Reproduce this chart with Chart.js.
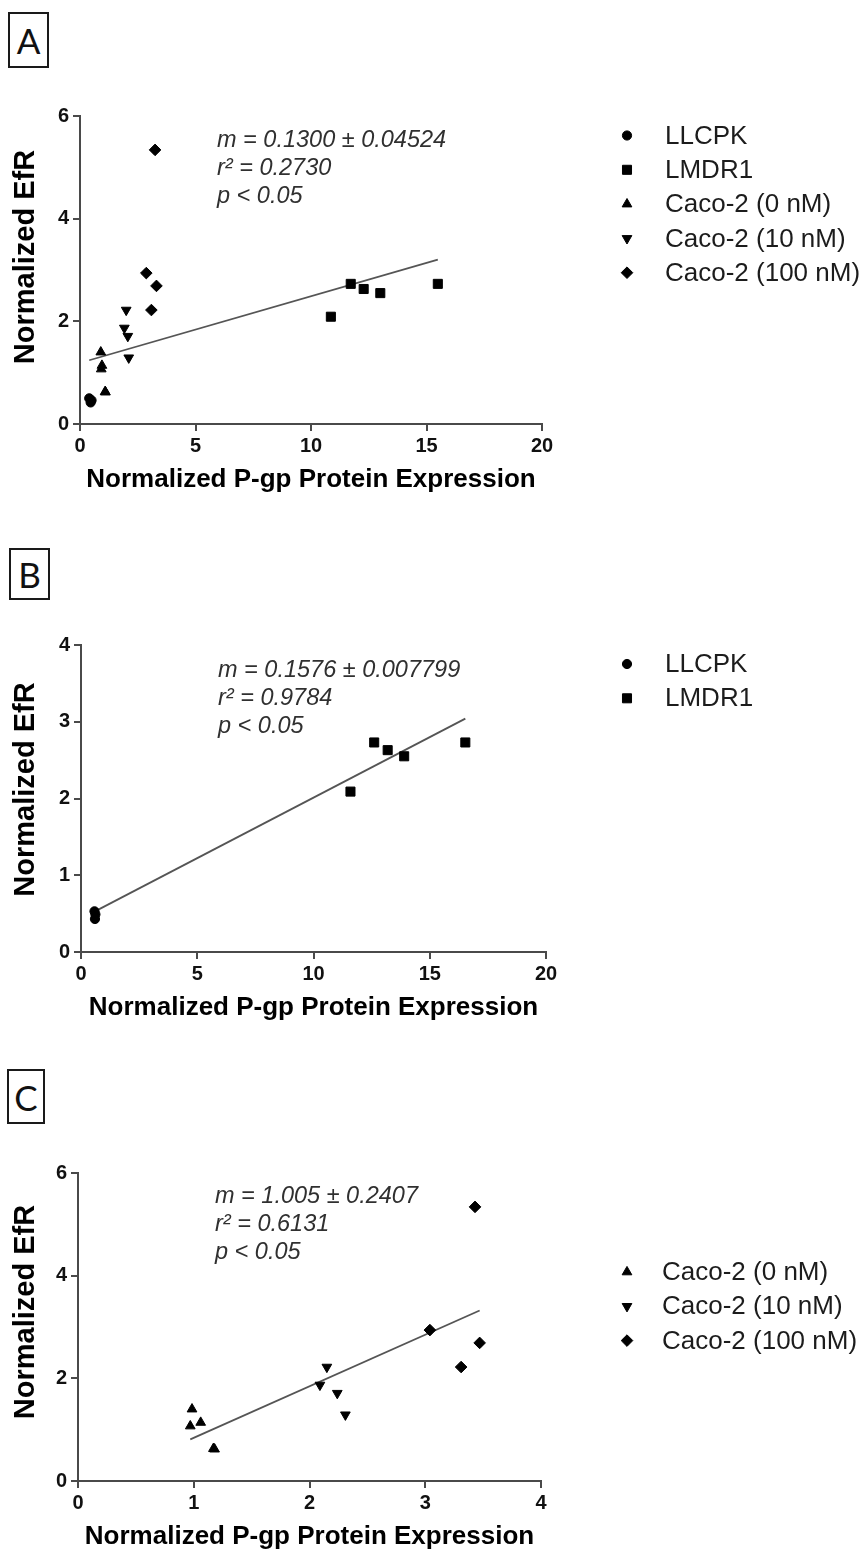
<!DOCTYPE html>
<html>
<head>
<meta charset="utf-8">
<title>Normalized EfR vs P-gp expression</title>
<script src="https://cdn.jsdelivr.net/npm/chart.js@4.4.1/dist/chart.umd.min.js"></script>
<style>
  html, body { margin: 0; padding: 0; background: #fff; }
  body { width: 867px; height: 1555px; position: relative; overflow: hidden; }
  .tag {
    position: absolute; box-sizing: border-box; border: 2px solid #1a1a1a;
    display: flex; align-items: center; justify-content: center;
    font-family: Lato, "Open Sans", "Liberation Sans", sans-serif; font-size: 35px; color: #111;
  }
  canvas { position: absolute; left: 0; }
</style>
</head>
<body>
<div class="tag" style="left:8px;top:12px;width:41px;height:56px;">A</div>
<div class="tag" style="left:9px;top:548px;width:41px;height:52px;">B</div>
<div class="tag" style="left:7px;top:1069px;width:38px;height:55px;">C</div>
<canvas id="chartA"></canvas>
<canvas id="chartB"></canvas>
<canvas id="chartC"></canvas>
<script>
// ---- Series names ----
const seriesNames = ['LLCPK', 'LMDR1', 'Caco-2 (0 nM)', 'Caco-2 (10 nM)', 'Caco-2 (100 nM)'];

// ---- Normalized EfR (y) per cell system ----
const efrLLCPK   = [0.50, 0.46, 0.42];
const efrLMDR1   = [2.09, 2.73, 2.63, 2.55, 2.73];
const efrCaco0   = [1.40, 1.14, 1.07, 0.63, 0.62];
const efrCaco10  = [2.22, 1.87, 1.71, 1.29];
const efrCaco100 = [5.34, 2.94, 2.69, 2.22];

// ---- Normalized P-gp protein expression (x), panel A ----
const pgpA_LLCPK   = [0.40, 0.50, 0.46];
const pgpA_LMDR1   = [10.86, 11.72, 12.28, 13.00, 15.49];
const pgpA_Caco0   = [0.90, 0.95, 0.92, 1.09, 1.10];
const pgpA_Caco10  = [2.00, 1.92, 2.07, 2.11];
const pgpA_Caco100 = [3.25, 2.87, 3.31, 3.09];

// ---- panel B ----
const efrB_LLCPK = [0.53, 0.49, 0.43];
const pgpB_LLCPK = [0.58, 0.62, 0.60];
const pgpB_LMDR1 = [11.59, 12.61, 13.19, 13.90, 16.53];

// ---- panel C ----
const pgpC_Caco0   = [0.985, 1.06, 0.97, 1.17, 1.18];
const pgpC_Caco10  = [2.15, 2.09, 2.24, 2.31];
const pgpC_Caco100 = [3.43, 3.04, 3.47, 3.31];

// ---- Linear fits: [slope, slope SE, r squared] as reported, plus intercept ----
const fitA = ['0.1300', '0.04524', '0.2730'];
const fitB = ['0.1576', '0.007799', '0.9784'];
const fitC = ['1.005', '0.2407', '0.6131'];
const interceptA = 1.19;
const interceptB = 0.435;
const interceptC = -0.165;
const pValueText = 'p < 0.05';

// ---- Axis ticks ----
const xTicksA = [0, 5, 10, 15, 20];
const yTicksA = [0, 2, 4, 6];
const xTicksB = [0, 5, 10, 15, 20];
const yTicksB = [0, 1, 2, 3, 4];
const xTicksC = [0, 1, 2, 3, 4];
const yTicksC = [0, 2, 4, 6];

const xTitle = 'Normalized P-gp Protein Expression';
const yTitle = 'Normalized EfR';

// ---- marker look for each series ----
const markerLook = {
  'LLCPK':           { pointStyle: 'circle',   radius: 4.6, rotation: 0 },
  'LMDR1':           { pointStyle: 'rect',     radius: 6.4, rotation: 0 },
  'Caco-2 (0 nM)':   { pointStyle: 'triangle', radius: 5.6, rotation: 0 },
  'Caco-2 (10 nM)':  { pointStyle: 'triangle', radius: 5.6, rotation: 180 },
  'Caco-2 (100 nM)': { pointStyle: 'rectRot',  radius: 5.8, rotation: 0 }
};

const FONT = '"Liberation Sans", Arial, Helvetica, sans-serif';
const PAGE_W = 867;
Chart.defaults.font.family = FONT;

function pts(xs, ys) { return xs.map((x, i) => ({ x: x, y: ys[i] })); }

function drawMarker(ctx, look, x, y) {
  const r = look.radius;
  ctx.beginPath();
  if (look.pointStyle === 'circle') {
    ctx.arc(x, y, r, 0, Math.PI * 2);
  } else if (look.pointStyle === 'rect') {
    const s = Math.SQRT1_2 * r;
    ctx.rect(x - s, y - s, 2 * s, 2 * s);
  } else if (look.pointStyle === 'rectRot') {
    ctx.moveTo(x - r, y); ctx.lineTo(x, y - r); ctx.lineTo(x + r, y); ctx.lineTo(x, y + r);
    ctx.closePath();
  } else {
    let a = look.rotation * Math.PI / 180;
    for (let i = 0; i < 3; i++) {
      const px = x + Math.sin(a) * r, py = y - Math.cos(a) * r;
      if (i === 0) ctx.moveTo(px, py); else ctx.lineTo(px, py);
      a += 2 * Math.PI / 3;
    }
    ctx.closePath();
  }
  ctx.fill();
  ctx.stroke();
}

// Rotated y title, fit statistics and the marker legend
const panelText = {
  id: 'panelText',
  afterDraw(chart, args, o) {
    const ctx = chart.ctx;
    const area = chart.chartArea;
    ctx.save();
    // y-axis title
    ctx.save();
    ctx.translate(o.yTitleX, (area.top + area.bottom) / 2 + o.yTitleShift);
    ctx.rotate(-Math.PI / 2);
    ctx.font = 'bold 29px ' + FONT;
    ctx.fillStyle = '#000';
    ctx.textAlign = 'center';
    ctx.textBaseline = 'middle';
    ctx.fillText(yTitle, 0, 0);
    ctx.restore();

    // fit statistics
    ctx.font = 'italic 23.5px ' + FONT;
    ctx.fillStyle = '#303030';
    ctx.textAlign = 'left';
    ctx.textBaseline = 'middle';
    const f = o.fit;
    const lines = ['m = ' + f[0] + ' \u00B1 ' + f[1], 'r\u00B2 = ' + f[2], pValueText];
    lines.forEach((t, i) => ctx.fillText(t, area.left + o.noteDx, area.top + o.noteDy + i * 28));

    // legend
    ctx.strokeStyle = '#000';
    ctx.lineWidth = 1;
    o.legend.forEach((name, i) => {
      const y = area.top + o.legendDy + i * 34.3;
      ctx.fillStyle = '#000';
      drawMarker(ctx, markerLook[name], o.legendMarkerX, y);
      ctx.font = '26px ' + FONT;
      ctx.fillStyle = '#1c1c1c';
      ctx.textAlign = 'left';
      ctx.textBaseline = 'middle';
      ctx.fillText(name, o.legendTextX, y + 1);
    });
    ctx.restore();
  }
};

function seriesDataset(name, xs, ys) {
  const look = markerLook[name];
  return {
    label: name,
    data: pts(xs, ys),
    pointStyle: look.pointStyle,
    pointRadius: look.radius,
    pointHoverRadius: look.radius,
    pointRotation: look.rotation,
    backgroundColor: '#000',
    borderColor: '#000',
    borderWidth: 1,
    showLine: false,
    order: 1
  };
}

function fitDataset(fit, intercept, allX) {
  const m = Number(fit[0]);
  const x0 = Math.min(...allX), x1 = Math.max(...allX);
  return {
    label: 'fit',
    data: [{ x: x0, y: intercept + m * x0 }, { x: x1, y: intercept + m * x1 }],
    showLine: true,
    borderColor: '#555',
    borderWidth: 1.8,
    pointRadius: 0,
    pointHoverRadius: 0,
    fill: false,
    order: 5
  };
}

function makePanel(cfg) {
  const canvas = document.getElementById(cfg.id);
  const H = cfg.bottomEdge - cfg.top;
  canvas.width = PAGE_W; canvas.height = H;
  canvas.style.top = cfg.top + 'px';
  canvas.style.width = PAGE_W + 'px';
  canvas.style.height = H + 'px';

  const g = cfg.area;
  const titleHalf = 26 * 1.2 / 2;
  const xBoxH = Math.round(cfg.xTitleY + titleHalf - g.b);
  const padBottom = H - (g.b - cfg.top) - xBoxH;

  const tickFont = { family: FONT, size: 20, weight: 'bold' };
  const axisCol = '#4a4a4a';

  const xt = cfg.xTicks, yt = cfg.yTicks;
  new Chart(canvas, {
    type: 'scatter',
    data: { datasets: cfg.datasets },
    options: {
      responsive: false,
      animation: false,
      events: [],
      devicePixelRatio: 1,
      layout: { padding: { left: 0, top: g.t - cfg.top, right: PAGE_W - g.r, bottom: padBottom } },
      plugins: {
        legend: { display: false },
        tooltip: { enabled: false },
        panelText: cfg.text
      },
      scales: {
        x: {
          type: 'linear', position: 'bottom',
          min: xt[0], max: xt[xt.length - 1],
          ticks: { stepSize: xt[1] - xt[0], color: '#111', font: tickFont, padding: 3, maxRotation: 0, autoSkip: false },
          grid: { display: true, drawOnChartArea: false, drawTicks: true, tickLength: 7, color: axisCol, lineWidth: 2 },
          border: { display: true, color: axisCol, width: 2 },
          title: { display: true, text: xTitle, color: '#000', font: { family: FONT, size: 26, weight: 'bold' }, padding: 0 },
          afterFit(s) { s.height = xBoxH; }
        },
        y: {
          type: 'linear', position: 'left',
          min: yt[0], max: yt[yt.length - 1],
          ticks: { stepSize: yt[1] - yt[0], color: '#111', font: tickFont, padding: 4 },
          grid: { display: true, drawOnChartArea: false, drawTicks: true, tickLength: 7, color: axisCol, lineWidth: 2 },
          border: { display: true, color: axisCol, width: 2 },
          afterFit(s) { s.width = g.l; }
        }
      }
    },
    plugins: [panelText]
  });
}

// Panel A: all cell systems
makePanel({
  id: 'chartA', top: 78, bottomEdge: 520,
  area: { l: 80, r: 542, t: 116, b: 424 }, xTitleY: 479,
  xTicks: xTicksA, yTicks: yTicksA,
  datasets: [
    fitDataset(fitA, interceptA, [].concat(pgpA_LLCPK, pgpA_LMDR1, pgpA_Caco0, pgpA_Caco10, pgpA_Caco100)),
    seriesDataset(seriesNames[0], pgpA_LLCPK, efrLLCPK),
    seriesDataset(seriesNames[1], pgpA_LMDR1, efrLMDR1),
    seriesDataset(seriesNames[2], pgpA_Caco0, efrCaco0),
    seriesDataset(seriesNames[3], pgpA_Caco10, efrCaco10),
    seriesDataset(seriesNames[4], pgpA_Caco100, efrCaco100)
  ],
  text: { fit: fitA, yTitleX: 26, yTitleShift: -13, noteDx: 137, noteDy: 24,
          legend: seriesNames, legendMarkerX: 627, legendTextX: 665, legendDy: 19.5 }
});

// Panel B: LLCPK and LMDR1 only
makePanel({
  id: 'chartB', top: 525, bottomEdge: 1045,
  area: { l: 81, r: 546, t: 645, b: 952 }, xTitleY: 1007,
  xTicks: xTicksB, yTicks: yTicksB,
  datasets: [
    fitDataset(fitB, interceptB, [].concat(pgpB_LLCPK, pgpB_LMDR1)),
    seriesDataset(seriesNames[0], pgpB_LLCPK, efrB_LLCPK),
    seriesDataset(seriesNames[1], pgpB_LMDR1, efrLMDR1)
  ],
  text: { fit: fitB, yTitleX: 26, yTitleShift: -9, noteDx: 137, noteDy: 25,
          legend: [seriesNames[0], seriesNames[1]], legendMarkerX: 627, legendTextX: 665, legendDy: 19 }
});

// Panel C: Caco-2 at three inducer concentrations
makePanel({
  id: 'chartC', top: 1050, bottomEdge: 1555,
  area: { l: 78, r: 541, t: 1173, b: 1481 }, xTitleY: 1536,
  xTicks: xTicksC, yTicks: yTicksC,
  datasets: [
    fitDataset(fitC, interceptC, [].concat(pgpC_Caco0, pgpC_Caco10, pgpC_Caco100)),
    seriesDataset(seriesNames[2], pgpC_Caco0, efrCaco0),
    seriesDataset(seriesNames[3], pgpC_Caco10, efrCaco10),
    seriesDataset(seriesNames[4], pgpC_Caco100, efrCaco100)
  ],
  text: { fit: fitC, yTitleX: 26, yTitleShift: -15, noteDx: 137, noteDy: 23,
          legend: [seriesNames[2], seriesNames[3], seriesNames[4]], legendMarkerX: 627, legendTextX: 662, legendDy: 99 }
});
</script>
</body>
</html>
